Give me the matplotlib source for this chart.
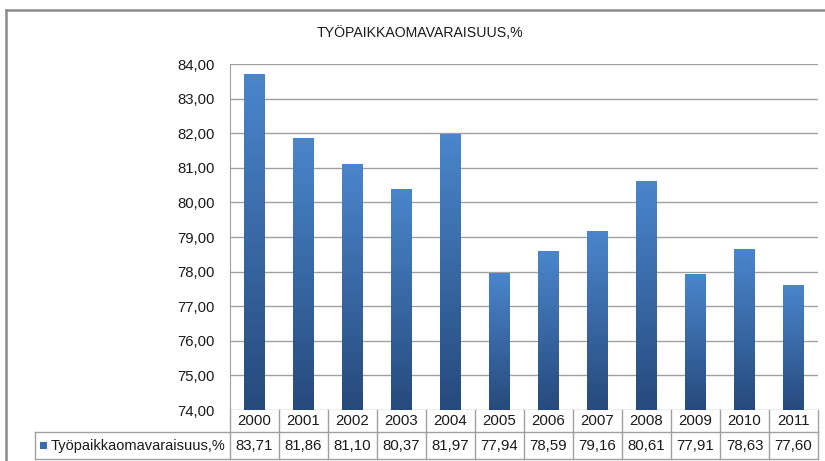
import numpy as np
import matplotlib.pyplot as plt
from matplotlib.colors import LinearSegmentedColormap
from matplotlib.lines import Line2D
from matplotlib.patches import Rectangle
import matplotlib.transforms as mtransforms

plt.rcParams['font.family'] = ['Liberation Sans', 'DejaVu Sans']

years = ["2000", "2001", "2002", "2003", "2004", "2005",
         "2006", "2007", "2008", "2009", "2010", "2011"]
values = [83.71, 81.86, 81.10, 80.37, 81.97, 77.94,
          78.59, 79.16, 80.61, 77.91, 78.63, 77.60]
series_name = "Työpaikkaomavaraisuus,%"
title = "TYÖPAIKKAOMAVARAISUUS,%"
y_min, y_max = 74, 84

W, H = 825, 461
fig = plt.figure(figsize=(W / 100, H / 100), dpi=100)


def fx(px):
    return px / W


def fy(py):
    return 1 - py / H


# plot area in pixels
left, right, top, bottom = 230, 818, 64, 410
ax = fig.add_axes([fx(left), fy(bottom), fx(right - left), (bottom - top) / H])

grid_col = "#a0a0a0"
cmap = LinearSegmentedColormap.from_list("bar", ["#264a7c", "#4a86cc"])
grad = np.linspace(0, 1, 256).reshape(-1, 1)

x = np.arange(len(years))
bar_w = 0.41
bars = ax.bar(x, np.array(values) - y_min, bottom=y_min, width=bar_w,
              color="none", edgecolor="none", zorder=3)
for b in bars:
    x0, y0 = b.get_x(), b.get_y()
    ax.imshow(grad, extent=[x0, x0 + b.get_width(), y0, y0 + b.get_height()],
              origin="lower", cmap=cmap, aspect="auto", zorder=3,
              interpolation="bicubic")

ax.set_xlim(-0.5, len(years) - 0.5)
ax.set_ylim(y_min, y_max)
ax.set_yticks(np.arange(y_min, y_max + 1, 1))
ax.set_yticklabels([f"{v:.2f}".replace(".", ",") for v in range(y_min, y_max + 1)],
                   fontsize=10.7, color="#1a1a1a")
ax.tick_params(axis="y", length=0, pad=11)
ax.set_xticks([])
ax.yaxis.grid(True, color=grid_col, linewidth=1.0, zorder=0)
ax.set_axisbelow(True)
for s in ["right", "bottom", "top"]:
    ax.spines[s].set_visible(False)
ax.spines["left"].set_color(grid_col)

# data table under the axis
trans = mtransforms.blended_transform_factory(ax.transData, fig.transFigure)
row1, row2, row3 = 410, 432, 459
for i in range(len(years) + 1):
    ax.add_line(Line2D([i - 0.5, i - 0.5], [fy(row1), fy(row3)], transform=trans,
                       color=grid_col, linewidth=1.0, clip_on=False))
for yy in (row2, row3):
    ax.add_line(Line2D([fx(35), fx(right)], [fy(yy), fy(yy)], transform=fig.transFigure,
                       color=grid_col, linewidth=1.0, clip_on=False))
ax.add_line(Line2D([fx(35), fx(35)], [fy(row2), fy(row3)], transform=fig.transFigure,
                   color=grid_col, linewidth=1.0, clip_on=False))

for i, (yr, v) in enumerate(zip(years, values)):
    ax.text(i, fy((row1 + row2) / 2), yr, transform=trans, ha="center", va="center",
            fontsize=10.8, color="#1a1a1a")
    ax.text(i, fy((row2 + row3) / 2), f"{v:.2f}".replace(".", ","), transform=trans,
            ha="center", va="center", fontsize=10.8, color="#1a1a1a")

fig.patches.append(Rectangle((fx(40), fy(449)), fx(7), 7 / H, transform=fig.transFigure,
                             facecolor="#3a6eb0", edgecolor="none"))
fig.text(fx(51), fy((row2 + row3) / 2), series_name, ha="left", va="center",
         fontsize=10.5, color="#1a1a1a")

fig.text(fx(420), fy(33), title, ha="center", va="center", fontsize=10.2, color="#1a1a1a")

# outer chart border (top and left visible)
fig.lines.append(Line2D([fx(6), fx(6)], [fy(10), 0], transform=fig.transFigure,
                        color="#8c8c8c", linewidth=1.8))
fig.lines.append(Line2D([fx(6), 1], [fy(10), fy(10)], transform=fig.transFigure,
                        color="#8c8c8c", linewidth=1.8))

fig.savefig("out.png", dpi=100)
